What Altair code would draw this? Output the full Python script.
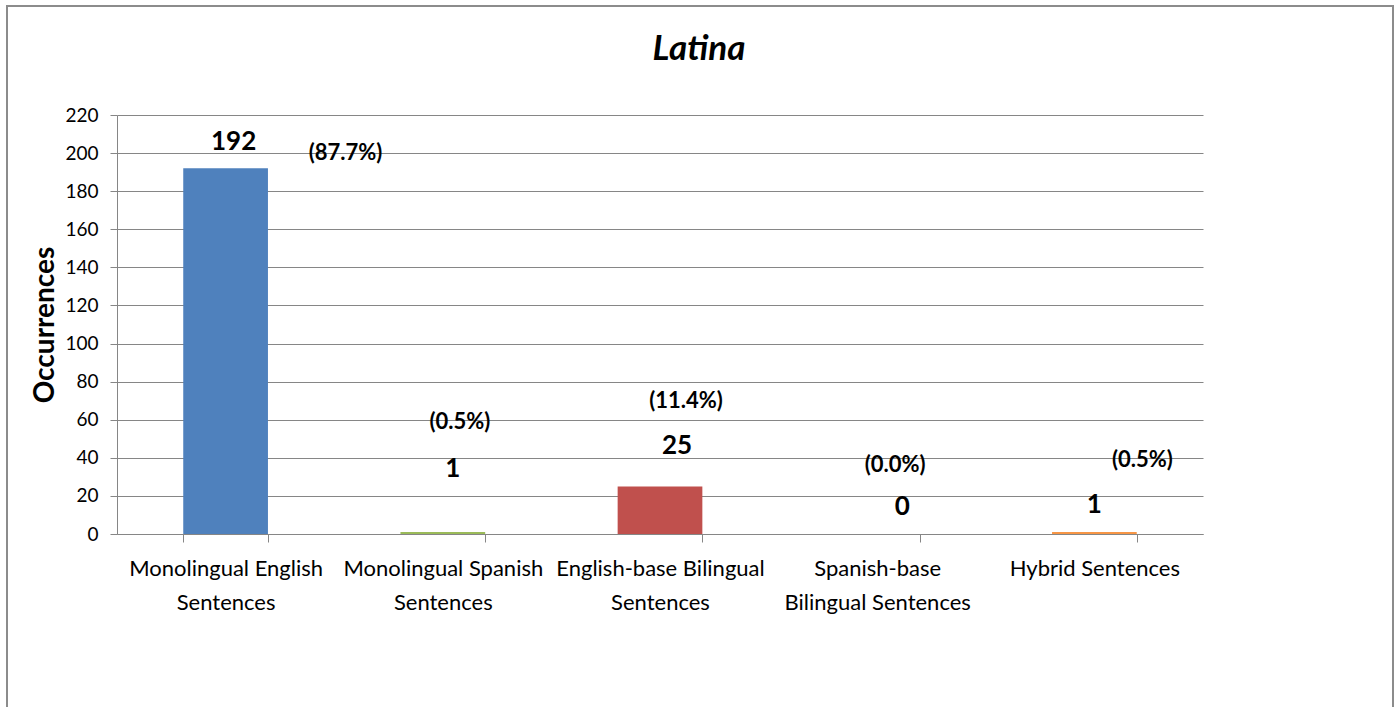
import altair as alt
import pandas as pd

# Sentence categories (| marks the line break in the axis label)
categories = [
    "Monolingual English|Sentences",
    "Monolingual Spanish|Sentences",
    "English-base Bilingual|Sentences",
    "Spanish-base|Bilingual Sentences",
    "Hybrid Sentences",
]
counts = [192, 1, 25, 0, 1]
shares = ["(87.7%)", "(0.5%)", "(11.4%)", "(0.0%)", "(0.5%)"]
bar_colors = ["#4F81BD", "#9BBB59", "#C0504D", "#8064A2", "#F79646"]
y_ticks = [0, 20, 40, 60, 80, 100, 120, 140, 160, 180, 200, 220]

# Where each annotation sits: height in axis units and horizontal nudge in px
count_label_y = [206, 34, 46, 14, 15]
count_label_dx = [8, 10, 17, 25, 0]
share_label_y = [200, 59, 70, 36, 39]
share_label_dx = [120, 17, 26, 18, 48]

FONT = "Lato"

df = pd.DataFrame({
    "cat": categories,
    "value": counts,
    "share": shares,
    "cy": count_label_y,
    "py": share_label_y,
})

x_axis = alt.Axis(
    title=None,
    labelExpr="split(datum.label, '|')",
    labelAngle=0,
    labelFontSize=22,
    labelFont=FONT,
    labelColor="#000000",
    labelPadding=16,
    labelLineHeight=34,
    labelBaseline="top",
    labelLimit=0,
    labelOverlap=False,
    tickBand="extent",
    tickSize=8,
    tickColor="#868686",
    domainColor="#868686",
    grid=False,
)
y_axis = alt.Axis(
    title="Occurrences",
    titleFont=FONT,
    titleFontSize=28,
    titleFontWeight="bold",
    titleColor="#000000",
    titlePadding=5,
    values=y_ticks,
    labelOverlap=False,
    labelFont=FONT,
    labelFontSize=19,
    labelColor="#000000",
    labelPadding=12,
    tickSize=7,
    tickColor="#868686",
    domainColor="#868686",
    gridColor="#868686",
    gridWidth=1,
)

x_scale = alt.Scale(paddingInner=0.61, paddingOuter=0.305)
y_scale = alt.Scale(domain=[0, 220], nice=False)


def x_enc():
    return alt.X("cat:N", sort=categories, scale=x_scale, axis=x_axis)


def y_enc(field):
    return alt.Y(f"{field}:Q", scale=y_scale, axis=y_axis)


bars = alt.Chart(df).mark_bar().encode(
    x=x_enc(),
    y=y_enc("value"),
    color=alt.Color("cat:N", scale=alt.Scale(domain=categories, range=bar_colors), legend=None),
)

layers = [bars]
for i, cat in enumerate(categories):
    row = df[df["cat"] == cat]
    layers.append(
        alt.Chart(row).mark_text(
            font=FONT, fontSize=26, fontWeight="bold", color="#000000", dx=count_label_dx[i]
        ).encode(x=x_enc(), y=y_enc("cy"), text=alt.Text("value:Q"))
    )
    layers.append(
        alt.Chart(row).mark_text(
            font=FONT, fontSize=22, fontWeight="bold", color="#000000", dx=share_label_dx[i]
        ).encode(x=x_enc(), y=y_enc("py"), text=alt.Text("share:N"))
    )

# Frame around the whole figure
frame = alt.Chart(pd.DataFrame({"k": [0]})).mark_rect(
    fill=None, stroke="#8c8c8c", strokeWidth=2
).encode(
    x=alt.value(-110), x2=alt.value(1276), y=alt.value(-109), y2=alt.value(700)
)
layers.append(frame)

chart = alt.layer(*layers).properties(
    width=1086,
    height=419,
    padding={"left": 117, "top": 115, "right": 196, "bottom": 173},
    autosize="none",
    title=alt.TitleParams(
        "Latina",
        font=FONT,
        fontSize=35,
        fontWeight="bold",
        fontStyle="italic",
        color="#000000",
        anchor="middle",
        frame="group",
        dx=39,
        offset=-62,
    ),
).configure_view(stroke=None)

chart.save("out.html", embed_options={"renderer": "svg", "actions": False})
